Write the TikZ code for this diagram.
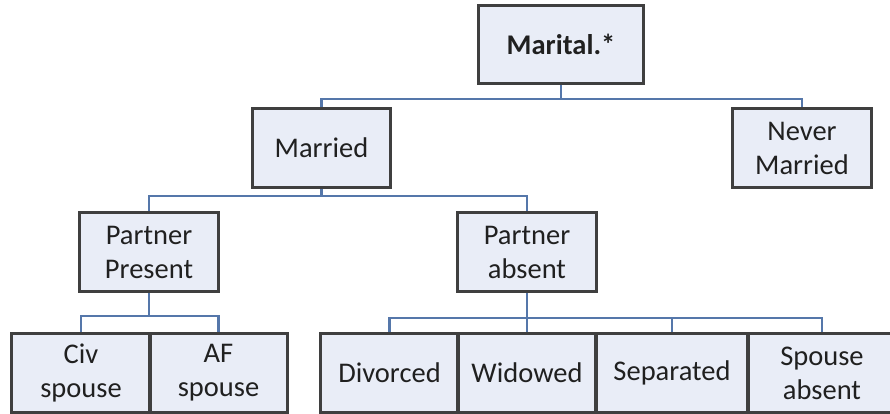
\documentclass[tikz,border=0pt]{standalone}
\usepackage{fontspec}
\setmainfont{Carlito}
\definecolor{boxfill}{HTML}{E9EDF7}
\definecolor{boxline}{HTML}{3F3F3F}
\definecolor{connline}{HTML}{5577AA}
\definecolor{txt}{HTML}{202020}
\begin{document}
\begin{tikzpicture}[x=1pt,y=1pt,
  box/.style={draw=boxline,line width=1.8pt,fill=boxfill,rectangle,inner sep=0pt,
    minimum height=78pt,align=center,text=txt,
    font=\fontsize{28.5}{34}\selectfont},
  conn/.style={draw=connline,line width=2.2pt}]
\useasboundingbox (0,0) rectangle (890,413);
\clip (0,0) rectangle (890,413);
\fill[white] (0,0) rectangle (890,413);
% nodes
\node[box,minimum width=164pt,minimum height=77pt,font=\fontsize{28.5}{34}\selectfont\bfseries] (marital) at (561,368.5) {Marital.*};
\node[box,minimum width=137pt] (married) at (321.5,265) {Married};
\node[box,minimum width=138pt] (never) at (802,265) {Never\\Married};
\node[box,minimum width=138pt] (pp) at (149,161) {Partner\\Present};
\node[box,minimum width=138pt] (pa) at (527,161) {Partner\\absent};
\node[box,minimum width=138pt] (civ) at (81,40) {Civ\\spouse};
\node[box,minimum width=137pt] (af) at (218.5,40) {AF\\spouse};
\node[box,minimum width=137pt] (div) at (389.5,40) {Divorced};
\node[box,minimum width=138pt] (wid) at (527,40) {Widowed};
\node[box,minimum width=152pt] (sep) at (672,40) {Separated};
\node[box,minimum width=148pt] (spo) at (822,40) {Spouse\\absent};
% bar coordinates
\coordinate (b1) at (561,314);
\coordinate (b2) at (321.5,217);
\coordinate (b3) at (149,97);
\coordinate (b4) at (527,95);
% connectors
\draw[conn] (marital.south) -- (b1);
\draw[conn] (married.north) |- (b1);
\draw[conn] (never.north) |- (b1);
\draw[conn] (married.south) -- (b2);
\draw[conn] (pp.north) |- (b2);
\draw[conn] (pa.north) |- (b2);
\draw[conn] (pp.south) -- (b3);
\draw[conn] (civ.north) |- (b3);
\draw[conn] (af.north) |- (b3);
\draw[conn] (pa.south) -- (b4);
\draw[conn] (div.north) |- (b4);
\draw[conn] (wid.north) -- (b4);
\draw[conn] (sep.north) |- (b4);
\draw[conn] (spo.north) |- (b4);
% redraw borders over connector ends
\foreach \n in {marital,married,never,pp,pa,civ,af,div,wid,sep,spo}
  \draw[boxline,line width=1.8pt] (\n.south west) rectangle (\n.north east);
\end{tikzpicture}
\end{document}
